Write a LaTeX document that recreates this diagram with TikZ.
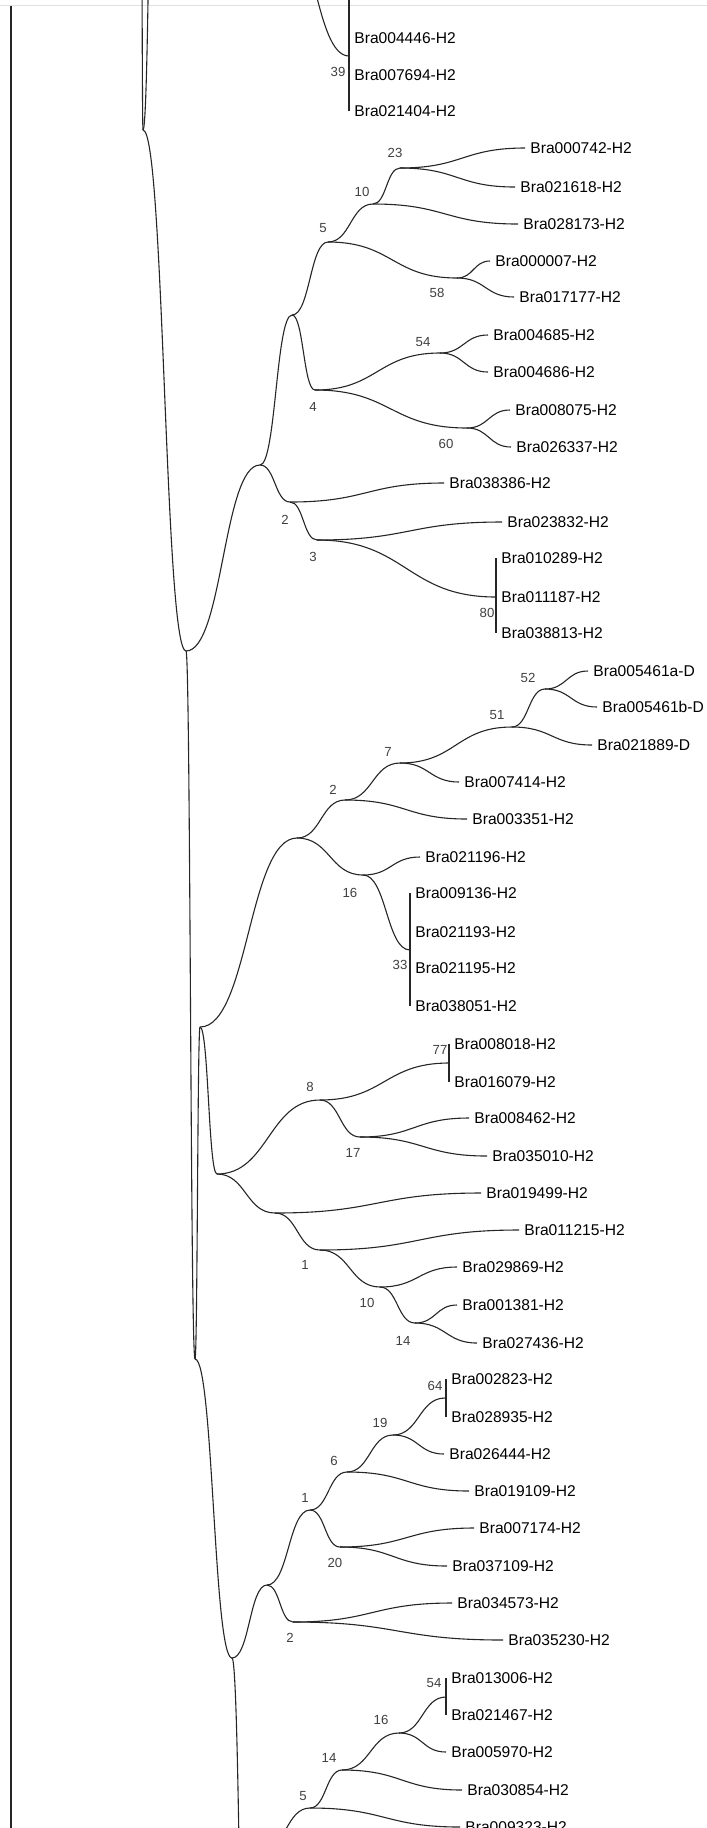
\documentclass[tikz,border=0pt]{standalone}
\usepackage{fontspec}
\setmainfont{Liberation Sans}
\usetikzlibrary{calc}

\tikzset{
  sbranch/.style={to path={.. controls ($(\tikztostart)!0.5!(\tikztostart-|\tikztotarget)$) and ($(\tikztotarget)!0.5!(\tikztotarget-|\tikztostart)$) .. (\tikztotarget)}},
  treeline/.style={line width=0.55pt,black!85},
  taxon/.style={anchor=west,inner xsep=2.5pt,inner ysep=1pt,font=\fontsize{7.8}{9}\selectfont},
  boot/.style={inner sep=0pt,font=\fontsize{6.6}{8}\selectfont,text=black!75},
}

\begin{document}
\begin{tikzpicture}[x=0.5pt,y=-0.5pt]
  \useasboundingbox (0,0) rectangle (707,1828);
  \clip (0,0) rectangle (707,1828);
  % frame line and outer stem
  \coordinate (fl) at (0,5); \coordinate (fr) at (707,5);
  \draw[black!12] (fl) -- (fr);
  \coordinate (lt) at (11,6); \coordinate (lb) at (11,1828);
  \draw[treeline] (lt) -- (lb);
  % inner nodes
  \coordinate (r0) at (140,-700);  \coordinate (r1) at (143,130);  \coordinate (r1u) at (158,-500);
  \coordinate (q39) at (280,-80);  \coordinate (b39) at (349,56);
  \coordinate (nA) at (186,651);   \coordinate (nB) at (195,1359);
  \coordinate (nC) at (200,1027);  \coordinate (nD) at (232,1658); \coordinate (nDd) at (250,2300);
  \coordinate (a1) at (260,465);   \coordinate (a2) at (292,315);  \coordinate (a5) at (328,242);
  \coordinate (a10) at (373,204);  \coordinate (a23) at (400,168); \coordinate (a58) at (457,278);
  \coordinate (a4) at (315,390);   \coordinate (a54) at (440,353); \coordinate (a60) at (467,428);
  \coordinate (a2b) at (290,502);  \coordinate (a3) at (317,540);  \coordinate (b80) at (496,597);
  \coordinate (c1) at (297,838);   \coordinate (c2) at (345,800);  \coordinate (c7) at (400,763);
  \coordinate (c51) at (512,727);  \coordinate (c52) at (545,689); \coordinate (c16) at (363,875);
  \coordinate (b33) at (410,950);
  \coordinate (e1) at (217,1174);  \coordinate (e8) at (320,1100); \coordinate (b77) at (449,1063);
  \coordinate (e17) at (360,1137); \coordinate (e2) at (275,1213); \coordinate (e1b) at (320,1250);
  \coordinate (e10) at (380,1287); \coordinate (e14) at (415,1323);
  \coordinate (d1) at (267,1585);  \coordinate (d1b) at (310,1510); \coordinate (d6) at (347,1472);
  \coordinate (d19) at (393,1435); \coordinate (b64) at (445,1398); \coordinate (d20) at (340,1547);
  \coordinate (d2) at (293,1622);
  \coordinate (q5) at (262,1850);  \coordinate (g5) at (310,1808);  \coordinate (g14) at (342,1770);
  \coordinate (g16) at (399,1733); \coordinate (b54) at (446,1697);
  \coordinate (t39top) at (349,-1);
  % taxa
  \foreach \id/\x/\y/\txt in {
    t004446/349/38/Bra004446-H2, t007694/349/75/Bra007694-H2, t021404/349/111/Bra021404-H2,
    t000742/525/148/Bra000742-H2, t021618/515/187/Bra021618-H2, t028173/518/224/Bra028173-H2,
    t000007/490/261/Bra000007-H2, t017177/514/297/Bra017177-H2, t004685/488/335/Bra004685-H2,
    t004686/488/372/Bra004686-H2, t008075/510/410/Bra008075-H2, t026337/511/447/Bra026337-H2,
    t038386/444/483/Bra038386-H2, t023832/502/522/Bra023832-H2, t010289/496/558/Bra010289-H2,
    t011187/496/597/Bra011187-H2, t038813/496/633/Bra038813-H2, t005461a/588/671/Bra005461a-D,
    t005461b/597/707/Bra005461b-D, t021889/592/745/Bra021889-D, t007414/459/782/Bra007414-H2,
    t003351/467/819/Bra003351-H2, t021196/420/857/Bra021196-H2, t009136/410/893/Bra009136-H2,
    t021193/410/932/Bra021193-H2, t021195/410/968/Bra021195-H2, t038051/410/1006/Bra038051-H2,
    t008018/449/1044/Bra008018-H2, t016079/449/1082/Bra016079-H2, t008462/469/1118/Bra008462-H2,
    t035010/487/1156/Bra035010-H2, t019499/481/1193/Bra019499-H2, t011215/519/1230/Bra011215-H2,
    t029869/457/1267/Bra029869-H2, t001381/457/1305/Bra001381-H2, t027436/477/1343/Bra027436-H2,
    t002823/446/1379/Bra002823-H2, t028935/446/1417/Bra028935-H2, t026444/444/1454/Bra026444-H2,
    t019109/469/1491/Bra019109-H2, t007174/474/1528/Bra007174-H2, t037109/447/1566/Bra037109-H2,
    t034573/452/1603/Bra034573-H2, t035230/503/1640/Bra035230-H2, t013006/446/1678/Bra013006-H2,
    t021467/446/1715/Bra021467-H2, t005970/446/1752/Bra005970-H2, t030854/462/1790/Bra030854-H2,
    t009323/460/1827/Bra009323-H2}
    \node[taxon] (\id) at (\x,\y) {\txt};
  % branches
  \foreach \p/\c in {r0/r1, r1/r1u, r1/nA, q39/b39, nA/a1, nA/nB, nB/nC, nB/nD, nD/nDd, nC/c1, nC/e1,
    a1/a2, a1/a2b, a2/a5, a2/a4, a5/a10, a5/a58, a10/a23, a10/t028173.west,
    a23/t000742.west, a23/t021618.west, a58/t000007.west, a58/t017177.west,
    a4/a54, a4/a60, a54/t004685.west, a54/t004686.west, a60/t008075.west, a60/t026337.west,
    a2b/t038386.west, a2b/a3, a3/t023832.west, a3/b80,
    c1/c2, c1/c16, c2/c7, c2/t003351.west, c7/c51, c7/t007414.west, c51/c52, c51/t021889.west,
    c52/t005461a.west, c52/t005461b.west, c16/t021196.west, c16/b33,
    e1/e8, e1/e2, e8/b77, e8/e17, e17/t008462.west, e17/t035010.west, e2/t019499.west, e2/e1b,
    e1b/t011215.west, e1b/e10, e10/t029869.west, e10/e14, e14/t001381.west, e14/t027436.west,
    nD/d1, d1/d1b, d1/d2, d1b/d6, d1b/d20, d6/d19, d6/t019109.west, d19/b64, d19/t026444.west,
    d20/t007174.west, d20/t037109.west, d2/t034573.west, d2/t035230.west,
    q5/g5, g5/g14, g5/t009323.west, g14/g16, g14/t030854.west, g16/b54, g16/t005970.west}
    \draw[treeline] (\p) to[sbranch] (\c);
  % collapsed groups
  \foreach \a/\b in {t39top/t021404, t010289/t038813, t009136/t038051, t008018/t016079,
    t002823/t028935, t013006/t021467}
    \draw[treeline] (\a.west) -- (\b.west);
  % bootstrap values
  \foreach \x/\y/\v [count=\i] in {338/72/39, 395/153/23, 362/192/10, 323/228/5, 437/293/58,
    423/342/54, 313/407/4, 446/444/60, 285/520/2, 313/557/3, 487/613/80, 528/678/52, 497/715/51,
    388/752/7, 333/790/2, 350/893/16, 400/965/33, 440/1050/77, 310/1087/8, 353/1153/17,
    305/1265/1, 367/1303/10, 403/1341/14, 435/1386/64, 380/1423/19, 334/1461/6, 305/1498/1,
    335/1563/20, 290/1638/2, 434/1683/54, 381/1720/16, 329/1758/14, 303/1796/5}
    \node[boot] (bs\i) at (\x,\y) {\v};
\end{tikzpicture}
\end{document}
